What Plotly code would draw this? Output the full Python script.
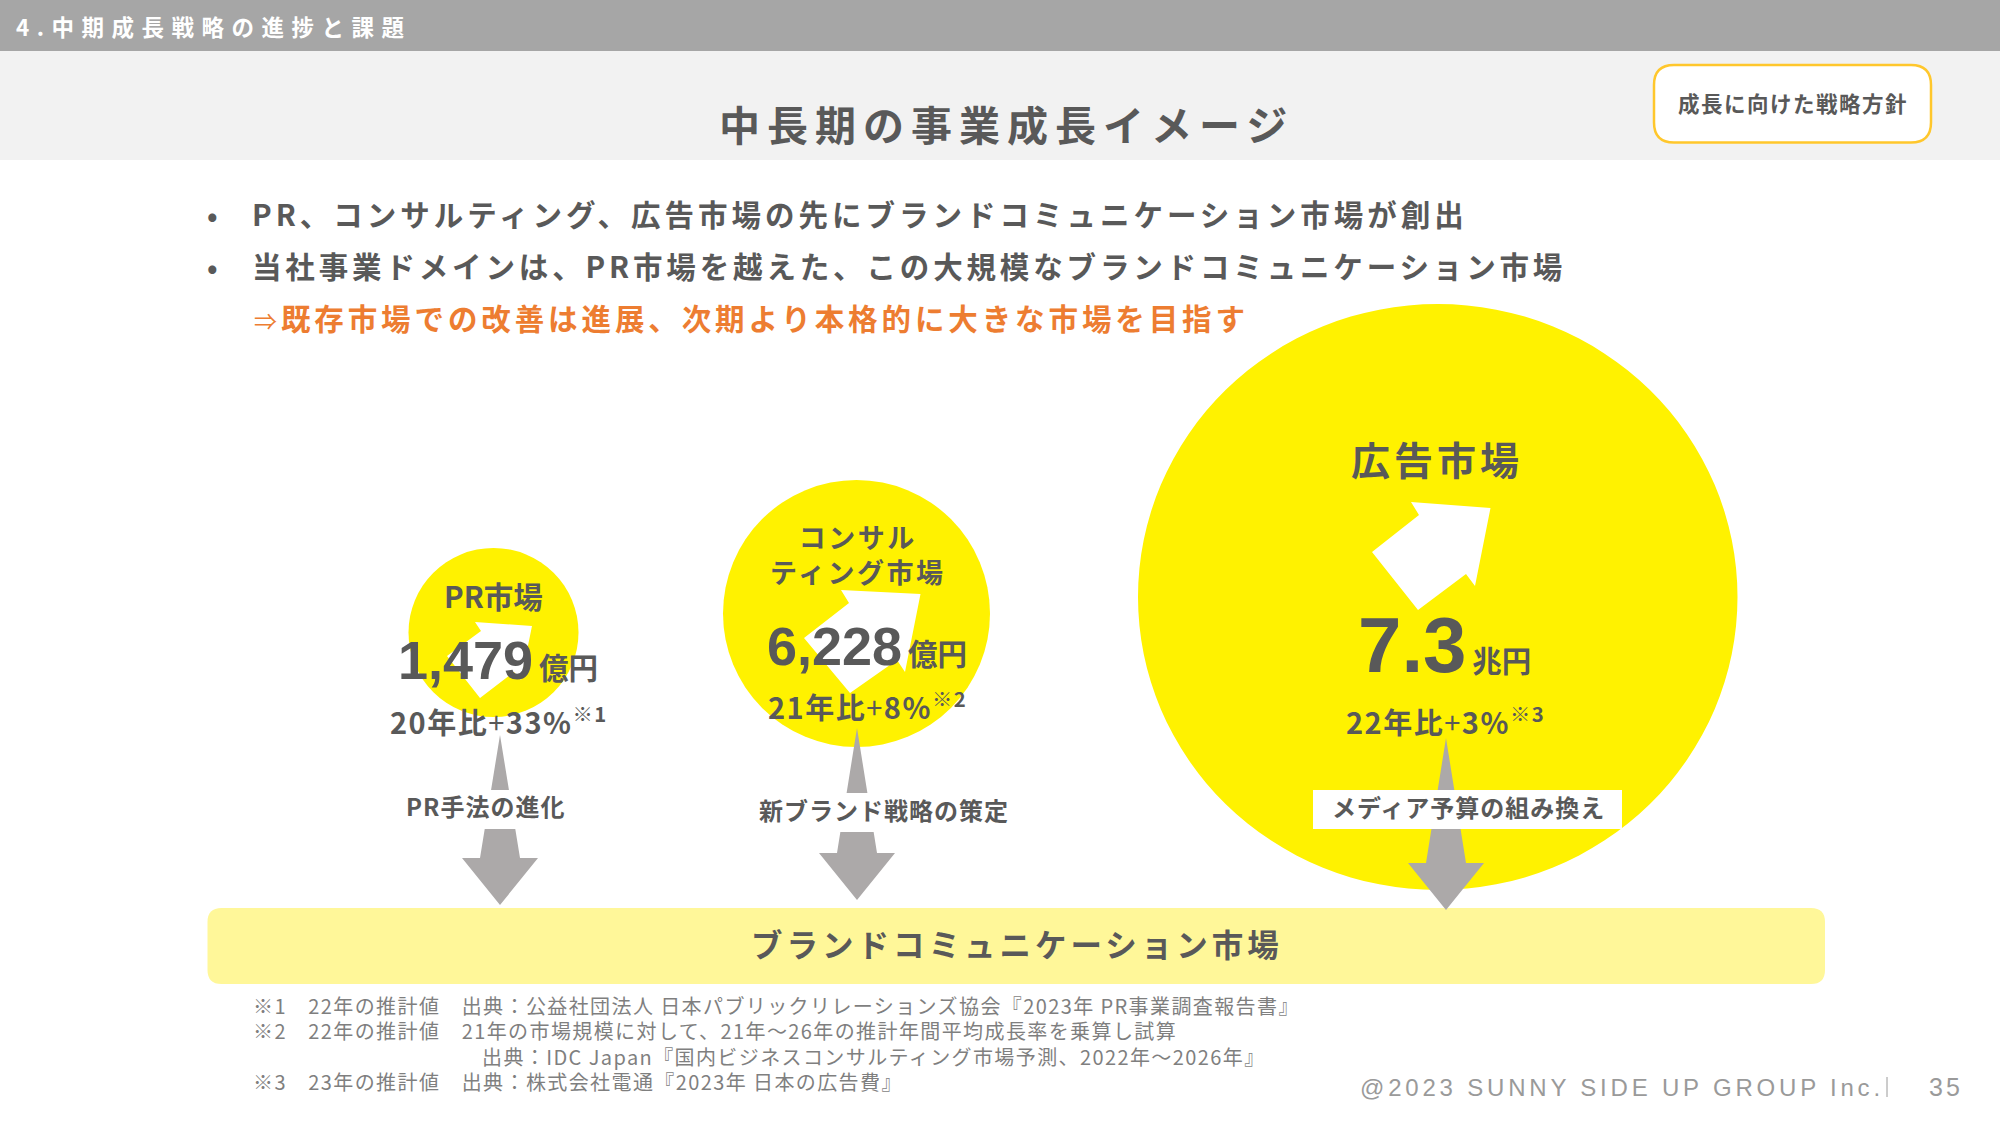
import plotly.graph_objects as go

# slide texts
section_title = "4.中期成長戦略の進捗と課題"
slide_title = "中長期の事業成長イメージ"
badge_text = "成長に向けた戦略方針"
bullets = [
    "PR、コンサルティング、広告市場の先にブランドコミュニケーション市場が創出",
    "当社事業ドメインは、PR市場を越えた、この大規模なブランドコミュニケーション市場",
]
conclusion_mark = "⇒"
conclusion = "既存市場での改善は進展、次期より本格的に大きな市場を目指す"

# market data
market_names = ["PR市場", "コンサル<br>ティング市場", "広告市場"]
market_values = ["1,479", "6,228", "7.3"]
market_units = ["億円", "億円", "兆円"]
market_growth = ["20年比+33%", "21年比+8%", "22年比+3%"]
market_notes = ["※1", "※2", "※3"]
drivers = ["PR手法の進化", "新ブランド戦略の策定", "メディア予算の組み換え"]
base_market = "ブランドコミュニケーション市場"

footnotes = [
    "※1　22年の推計値　出典：公益社団法人 日本パブリックリレーションズ協会『2023年 PR事業調査報告書』",
    "※2　22年の推計値　21年の市場規模に対して、21年～26年の推計年間平均成長率を乗算し試算",
    "出典：IDC Japan『国内ビジネスコンサルティング市場予測、2022年～2026年』",
    "※3　23年の推計値　出典：株式会社電通『2023年 日本の広告費』",
]
copyright_text = "@2023 SUNNY SIDE UP GROUP Inc."
page_number = "35"

# colours
GREY_TEXT = "#595959"
YELLOW = "#FFF200"
PALE_YELLOW = "#FFF799"
ARROW_GREY = "#ACA9A9"
ORANGE = "#ED7D31"
FONT = "Noto Sans CJK JP"
LATIN = "Liberation Sans"

# placement on the 2000x1125 slide
circles = [(408.5, 548, 578.5, 717), (723, 480, 990, 747), (1138, 304, 1737.5, 890)]
white_arrows = [
    ([475, 532, 521, 514, 480, 447, 481], [622, 626, 680, 672, 698, 656, 631]),
    ([841, 920.5, 905, 897, 850, 804, 849], [590, 594, 672, 660, 693, 638, 603]),
    ([1411, 1490.5, 1475, 1466, 1418, 1372, 1419], [502, 508, 586, 574, 610, 552, 515]),
]
# apex x, apex y, shoulder y, tip y
grey_arrows = [(500, 735, 858, 905), (857, 728, 853, 900), (1446, 738, 863, 910)]
driver_boxes = [(395, 790, 575, 829), (750, 793, 1020, 832), (1313, 790, 1622, 829)]
driver_pos = [(485, 805.5), (884, 809.5), (1468, 806.5)]

fig = go.Figure()

for xs, ys in white_arrows:
    fig.add_trace(go.Scatter(x=xs, y=ys, mode="lines", fill="toself", fillcolor="white",
                             line=dict(width=0), hoverinfo="skip", showlegend=False))

for ax, ay, sy, ty in grey_arrows:
    xs = [ax, ax + 20, ax + 38, ax, ax - 38, ax - 20]
    ys = [ay, sy, sy, ty, sy, sy]
    fig.add_trace(go.Scatter(x=xs, y=ys, mode="lines", fill="toself", fillcolor=ARROW_GREY,
                             line=dict(width=0), hoverinfo="skip", showlegend=False))


def rounded(x0, y0, x1, y1, r):
    return (f"M{x0+r},{y0} L{x1-r},{y0} Q{x1},{y0} {x1},{y0+r} L{x1},{y1-r} Q{x1},{y1} {x1-r},{y1} "
            f"L{x0+r},{y1} Q{x0},{y1} {x0},{y1-r} L{x0},{y0+r} Q{x0},{y0} {x0+r},{y0} Z")


shapes = [
    dict(type="rect", x0=0, x1=2000, y0=51, y1=160, fillcolor="#F2F2F2", line_width=0, layer="below"),
    dict(type="rect", x0=0, x1=2000, y0=0, y1=51, fillcolor="#A6A6A6", line_width=0, layer="below"),
    dict(type="path", path=rounded(1654, 65, 1931, 142.5, 20), fillcolor="white",
         line=dict(color="#FFC72C", width=2.5), layer="below"),
    dict(type="path", path=rounded(207.5, 908, 1825, 984, 14), fillcolor=PALE_YELLOW, line_width=0, layer="below"),
]
for x0, y0, x1, y1 in circles:
    shapes.append(dict(type="circle", x0=x0, y0=y0, x1=x1, y1=y1, fillcolor=YELLOW, line_width=0, layer="below"))
for x0, y0, x1, y1 in driver_boxes:
    shapes.append(dict(type="rect", x0=x0, y0=y0, x1=x1, y1=y1, fillcolor="white", line_width=0, layer="above"))


def spaced(text, px):
    return f'<span style="letter-spacing:{px}px">{text}</span>'


annotations = []


def label(x, y, text, size, color=GREY_TEXT, weight=700, anchor="center", font=FONT):
    annotations.append(dict(x=x, y=y, xref="x", yref="y", text=text, showarrow=False,
                            xanchor=anchor, yanchor="middle", align="center",
                            font=dict(family=font, size=size, color=color, weight=weight)))


label(13.5, 26, spaced(section_title, 7.5), 22.5, color="white", anchor="left")
label(1006, 122.5, spaced(slide_title, 7), 41)
label(1793, 102, spaced(badge_text, 1.5), 21.5)

label(212, 214, "•", 28, anchor="center")
label(212, 266, "•", 28, anchor="center")
label(250, 213, spaced(bullets[0], 4), 29.5, anchor="left")
label(250, 265, spaced(bullets[1], 3.85), 29.5, anchor="left")
mark = f'<span style="font-size:23px;font-weight:400">{conclusion_mark}</span>'
label(252, 317, spaced(mark + conclusion, 3.9), 29.5, color=ORANGE, anchor="left")

# market labels
name_pos = [(493.5, 595, 29.5, 0), (857, 553.5, 27, 2.5), (1437, 458, 39, 4)]
value_pos = [(498, 660, 54, 29.5), (867, 645.5, 54, 29.5), (1444, 645, 78, 29.5)]
growth_pos = [(499, 719.5), (867, 704.5), (1445, 719.5)]
thin_plus = '<span style="font-weight:400">+</span>'
for i in range(3):
    x, y, size, gap = name_pos[i]
    label(x, y, spaced(market_names[i], gap), size)
    x, y, size, unit_size = value_pos[i]
    label(x, y, (f'<span style="font-family:{LATIN}">{market_values[i]}</span>'
                 f'<span style="font-size:{unit_size}px">\u2009{market_units[i]}</span>'), size)
    x, y = growth_pos[i]
    growth = market_growth[i].replace("+", thin_plus)
    label(x, y, spaced(f"{growth}<sup>{market_notes[i]}</sup>", 1.5), 29)
    x, y = driver_pos[i]
    label(x, y, spaced(drivers[i], 1), 24)

label(1016.5, 942.5, spaced(base_market, 4), 31.5)

# footnotes
foot_pos = [(251, 1005.5), (251, 1030.5), (480, 1056.5), (251, 1081.5)]
for (x, y), note in zip(foot_pos, footnotes):
    label(x, y, spaced(note, 1.4), 20, color="#7F7F7F", weight=400, anchor="left")

# footer
label(1358, 1087, spaced(copyright_text, 3.8), 24, color="#9A9A9A", weight=400, anchor="left", font=LATIN)
label(1927, 1087, spaced(page_number, 3), 25, color="#9A9A9A", weight=400, anchor="left", font=LATIN)
shapes.append(dict(type="line", x0=1887, x1=1887, y0=1077, y1=1097, line=dict(color="#9A9A9A", width=1), layer="above"))

fig.update_layout(
    width=2000, height=1125,
    margin=dict(l=0, r=0, t=0, b=0),
    paper_bgcolor="white", plot_bgcolor="white",
    xaxis=dict(range=[0, 2000], visible=False, fixedrange=True),
    yaxis=dict(range=[1125, 0], visible=False, fixedrange=True),
    shapes=shapes,
    annotations=annotations,
    showlegend=False,
)

# the browser's default body margin would push the slide off its 2000x1125 frame
fig.write_html("out.html", config=dict(displayModeBar=False),
               post_script="document.body.style.margin='0';document.body.style.overflow='hidden';")
